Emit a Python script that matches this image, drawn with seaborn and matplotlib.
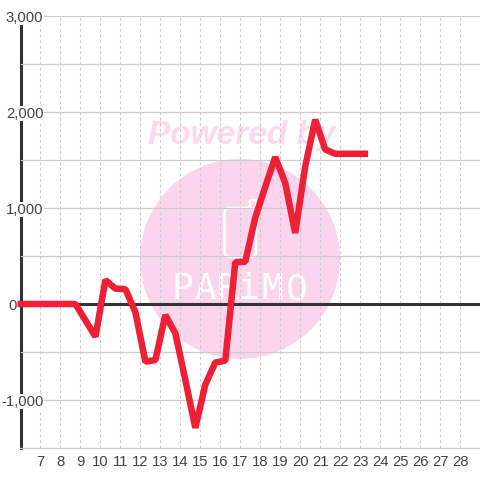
import matplotlib
matplotlib.use("Agg")
import matplotlib.pyplot as plt
import seaborn as sns
from matplotlib.patches import Circle, FancyBboxPatch, Rectangle

# values
days = [5.85, 8.75, 9.75, 10.25, 10.75, 11.25, 11.75, 12.25, 12.75, 13.25, 13.75,
        14.25, 14.75, 15.25, 15.75, 16.25, 16.75, 17.25, 17.75, 18.25, 18.75,
        19.25, 19.75, 20.25, 20.75, 21.25, 21.75, 22.25, 22.75, 23.4]
values = [0, 0, -340, 250, 160, 155, -85, -600, -585, -115, -305,
          -790, -1290, -840, -610, -590, 435, 440, 900, 1220, 1530,
          1260, 740, 1430, 1920, 1610, 1565, 1565, 1565, 1565]
x_ticks = list(range(7, 29))
y_ticks = [-1000, 0, 1000, 2000, 3000]
y_minor = [-500, 500, 1500, 2500]
logo_letters = ["P", "A", "R", "i", "M", "O"]
logo_x = [182, 205, 227, 249, 272, 297]

RED = "#ef1f35"
DARK = "#333333"
GRID = "#cccccc"
PINK = "#fbd5ee"
TEXT = "#444444"
W = 480.0

sns.set_theme(style="white")
plt.rcParams["font.family"] = ["Liberation Sans", "DejaVu Sans"]

fig = plt.figure(figsize=(4.8, 4.8), dpi=100, facecolor="white")
ax = fig.add_axes([20.5 / W, 32 / W, 459.5 / W, 432 / W])
ax.set_zorder(2)
ax.patch.set_visible(False)

# watermark under the axes
fig.add_artist(Circle((240 / W, 221 / W), 100 / W, transform=fig.transFigure,
                      facecolor=PINK, edgecolor="none", zorder=0))
fig.text(242 / W, 344.5 / W, "Powered by", color="#fdd9f1", fontsize=24, fontweight="bold",
         fontstyle="italic", ha="center", va="center", zorder=0)
fig.add_artist(FancyBboxPatch((224.5 / W, 223 / W), 31.5 / W, 49 / W,
                              boxstyle="round,pad=0,rounding_size=0.01",
                              transform=fig.transFigure, facecolor="none",
                              edgecolor="white", linewidth=1.8, zorder=1))
fig.add_artist(Rectangle((250 / W, 272 / W), 6 / W, 8 / W, transform=fig.transFigure,
                         facecolor="none", edgecolor="white", linewidth=1.4, zorder=1))
for letter, px in zip(logo_letters, logo_x):
    fig.text(px / W, 191 / W, letter, color="white", fontsize=26,
             family="DejaVu Sans Mono", ha="center", va="center", zorder=1)

ax.axhline(0, color=DARK, lw=2.2, zorder=3)
sns.lineplot(x=days, y=values, ax=ax, color=RED, linewidth=4.7, estimator=None,
             sort=False, solid_joinstyle="bevel", solid_capstyle="butt",
             clip_on=False, zorder=5)

ax.set_xlim(6, 29)
ax.set_ylim(-1500, 3000)
ax.set_xticks(x_ticks)
ax.set_yticks(y_ticks)
ax.set_yticks(y_minor, minor=True)
ax.set_xticklabels([str(d) for d in x_ticks])
ax.set_yticklabels(["-1,000", "0", "1,000", "2,000", "3,000"])
ax.set_axisbelow(False)
ax.grid(True, axis="y", which="both", color=GRID, lw=0.9, ls="-")
ax.grid(True, axis="x", which="major", color=GRID, lw=0.8, ls=(0, (2.5, 2.5)))
ax.tick_params(axis="both", which="both", length=0, labelcolor=TEXT, labelsize=10.7)
ax.tick_params(axis="x", pad=5)
ax.tick_params(axis="y", pad=-16.5)

for lab in ax.get_yticklabels():
    lab.set_bbox(dict(facecolor="white", edgecolor="none", pad=0.3))
ax.yaxis.get_major_ticks()[1].set_pad(3)

for side in ["top", "right"]:
    ax.spines[side].set_visible(False)
ax.spines["left"].set_color(DARK)
ax.spines["left"].set_linewidth(2.2)
ax.spines["bottom"].set_color(GRID)
ax.spines["bottom"].set_linewidth(0.9)

fig.savefig("out.png", dpi=100)
